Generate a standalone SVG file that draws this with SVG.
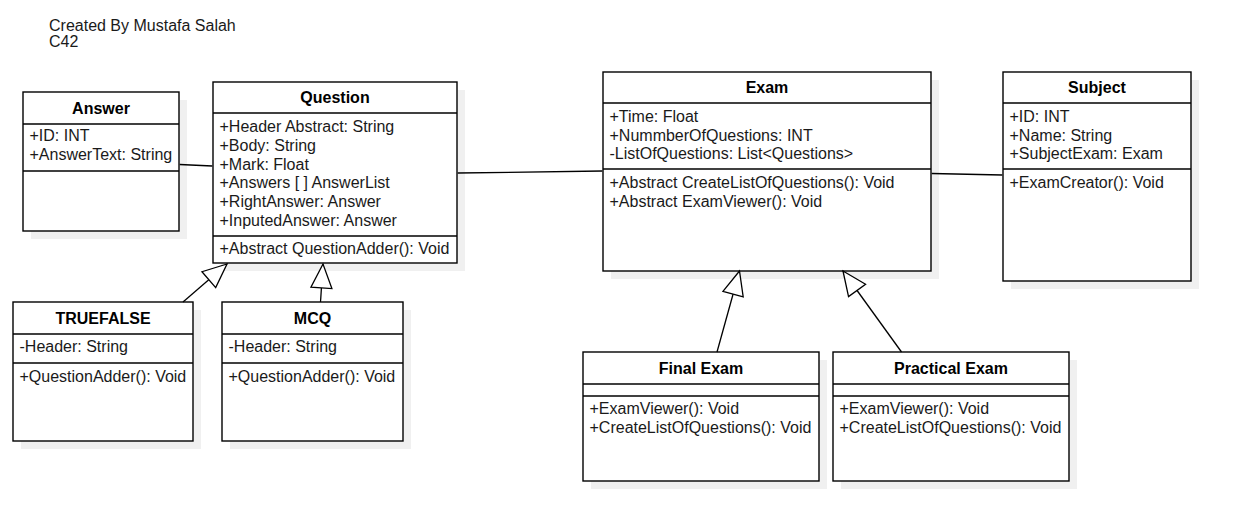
<svg xmlns="http://www.w3.org/2000/svg" width="1241" height="531" viewBox="0 0 1241 531">
<style>
.shadow{fill:#f0f0f0;stroke:none}
.box{fill:#fff;stroke:#000;stroke-width:1.4}
.div{stroke:#000;stroke-width:1.4}
.t{font-family:"Liberation Sans",Arial,Helvetica,sans-serif;font-size:16px;fill:#1a1a1a}
.h{font-family:"Liberation Sans",Arial,Helvetica,sans-serif;font-size:16px;font-weight:bold;fill:#000;text-anchor:middle}
.c{fill:none;stroke:#000;stroke-width:1.3}
</style>
<defs>
<marker id="gen" markerUnits="userSpaceOnUse" markerWidth="30" markerHeight="30" refX="0" refY="0" orient="auto" overflow="visible">
<path d="M0,0 L-24,-10.5 L-24,10.5 Z" fill="#fff" stroke="#000" stroke-width="1.3"/>
</marker>
</defs>
<rect width="1241" height="531" fill="#fff"/>
<g id="note">
<text class="t" x="49" y="30.7">Created By Mustafa Salah</text>
<text class="t" x="49" y="47.3">C42</text>
</g>
<g id="answer">
<rect class="shadow" x="31" y="100" width="156" height="139"/>
<rect class="box" x="23" y="92" width="156" height="139"/>
<line class="div" x1="23" y1="124" x2="179" y2="124"/>
<line class="div" x1="23" y1="171" x2="179" y2="171"/>
<text class="h" x="101" y="113.5">Answer</text>
<text class="t" x="29.5" y="141">+ID: INT</text>
<text class="t" x="29.5" y="160">+AnswerText: String</text>
</g>
<g id="question">
<rect class="shadow" x="221" y="90" width="244" height="181"/>
<rect class="box" x="213" y="82" width="244" height="181"/>
<line class="div" x1="213" y1="113" x2="457" y2="113"/>
<line class="div" x1="213" y1="236" x2="457" y2="236"/>
<text class="h" x="335" y="103">Question</text>
<text class="t" x="219.5" y="132">+Header Abstract: String</text>
<text class="t" x="219.5" y="150.8">+Body: String</text>
<text class="t" x="219.5" y="169.6">+Mark: Float</text>
<text class="t" x="219.5" y="188.4">+Answers [ ] AnswerList</text>
<text class="t" x="219.5" y="207.2">+RightAnswer: Answer</text>
<text class="t" x="219.5" y="226">+InputedAnswer: Answer</text>
<text class="t" x="219.5" y="253.5">+Abstract QuestionAdder(): Void</text>
</g>
<g id="truefalse">
<rect class="shadow" x="21" y="310" width="180" height="139"/>
<rect class="box" x="13" y="302" width="180" height="139"/>
<line class="div" x1="13" y1="334" x2="193" y2="334"/>
<line class="div" x1="13" y1="363" x2="193" y2="363"/>
<text class="h" x="103" y="323.5">TRUEFALSE</text>
<text class="t" x="19.5" y="352">-Header: String</text>
<text class="t" x="19.5" y="381.5">+QuestionAdder(): Void</text>
</g>
<g id="mcq">
<rect class="shadow" x="230" y="310" width="181" height="139"/>
<rect class="box" x="222" y="302" width="181" height="139"/>
<line class="div" x1="222" y1="334" x2="403" y2="334"/>
<line class="div" x1="222" y1="363" x2="403" y2="363"/>
<text class="h" x="312.5" y="323.5">MCQ</text>
<text class="t" x="228.5" y="352">-Header: String</text>
<text class="t" x="228.5" y="381.5">+QuestionAdder(): Void</text>
</g>
<g id="exam">
<rect class="shadow" x="611" y="80" width="328" height="199"/>
<rect class="box" x="603" y="72" width="328" height="199"/>
<line class="div" x1="603" y1="103" x2="931" y2="103"/>
<line class="div" x1="603" y1="169" x2="931" y2="169"/>
<text class="h" x="767" y="93">Exam</text>
<text class="t" x="609.5" y="121.7">+Time: Float</text>
<text class="t" x="609.5" y="140.5">+NummberOfQuestions: INT</text>
<text class="t" x="609.5" y="159.3">-ListOfQuestions: List&lt;Questions&gt;</text>
<text class="t" x="609.5" y="187.7">+Abstract CreateListOfQuestions(): Void</text>
<text class="t" x="609.5" y="206.5">+Abstract ExamViewer(): Void</text>
</g>
<g id="subject">
<rect class="shadow" x="1011" y="80" width="188" height="209"/>
<rect class="box" x="1003" y="72" width="188" height="209"/>
<line class="div" x1="1003" y1="103" x2="1191" y2="103"/>
<line class="div" x1="1003" y1="169" x2="1191" y2="169"/>
<text class="h" x="1097" y="93">Subject</text>
<text class="t" x="1009.5" y="121.7">+ID: INT</text>
<text class="t" x="1009.5" y="140.5">+Name: String</text>
<text class="t" x="1009.5" y="159.3">+SubjectExam: Exam</text>
<text class="t" x="1009.5" y="187.7">+ExamCreator(): Void</text>
</g>
<g id="final-exam">
<rect class="shadow" x="591" y="360" width="236" height="129"/>
<rect class="box" x="583" y="352" width="236" height="129"/>
<line class="div" x1="583" y1="384" x2="819" y2="384"/>
<line class="div" x1="583" y1="396" x2="819" y2="396"/>
<text class="h" x="701" y="373.5">Final Exam</text>
<text class="t" x="589.5" y="413.7">+ExamViewer(): Void</text>
<text class="t" x="589.5" y="432.5">+CreateListOfQuestions(): Void</text>
</g>
<g id="practical-exam">
<rect class="shadow" x="841" y="360" width="236" height="129"/>
<rect class="box" x="833" y="352" width="236" height="129"/>
<line class="div" x1="833" y1="384" x2="1069" y2="384"/>
<line class="div" x1="833" y1="396" x2="1069" y2="396"/>
<text class="h" x="951" y="373.5">Practical Exam</text>
<text class="t" x="839.5" y="413.7">+ExamViewer(): Void</text>
<text class="t" x="839.5" y="432.5">+CreateListOfQuestions(): Void</text>
</g>
<g id="connectors">
<path class="c" d="M179.7,164.5 L212.3,166"/>
<path class="c" d="M457.7,173 L602.3,171"/>
<path class="c" d="M931.7,173.5 L1002.3,175"/>
<path class="c" d="M183,302 L227,264" marker-end="url(#gen)"/>
<path class="c" d="M320.5,302 L323,264" marker-end="url(#gen)"/>
<path class="c" d="M717,352 L739.5,271" marker-end="url(#gen)"/>
<path class="c" d="M901.5,352 L843,271" marker-end="url(#gen)"/>
</g>
</svg>
